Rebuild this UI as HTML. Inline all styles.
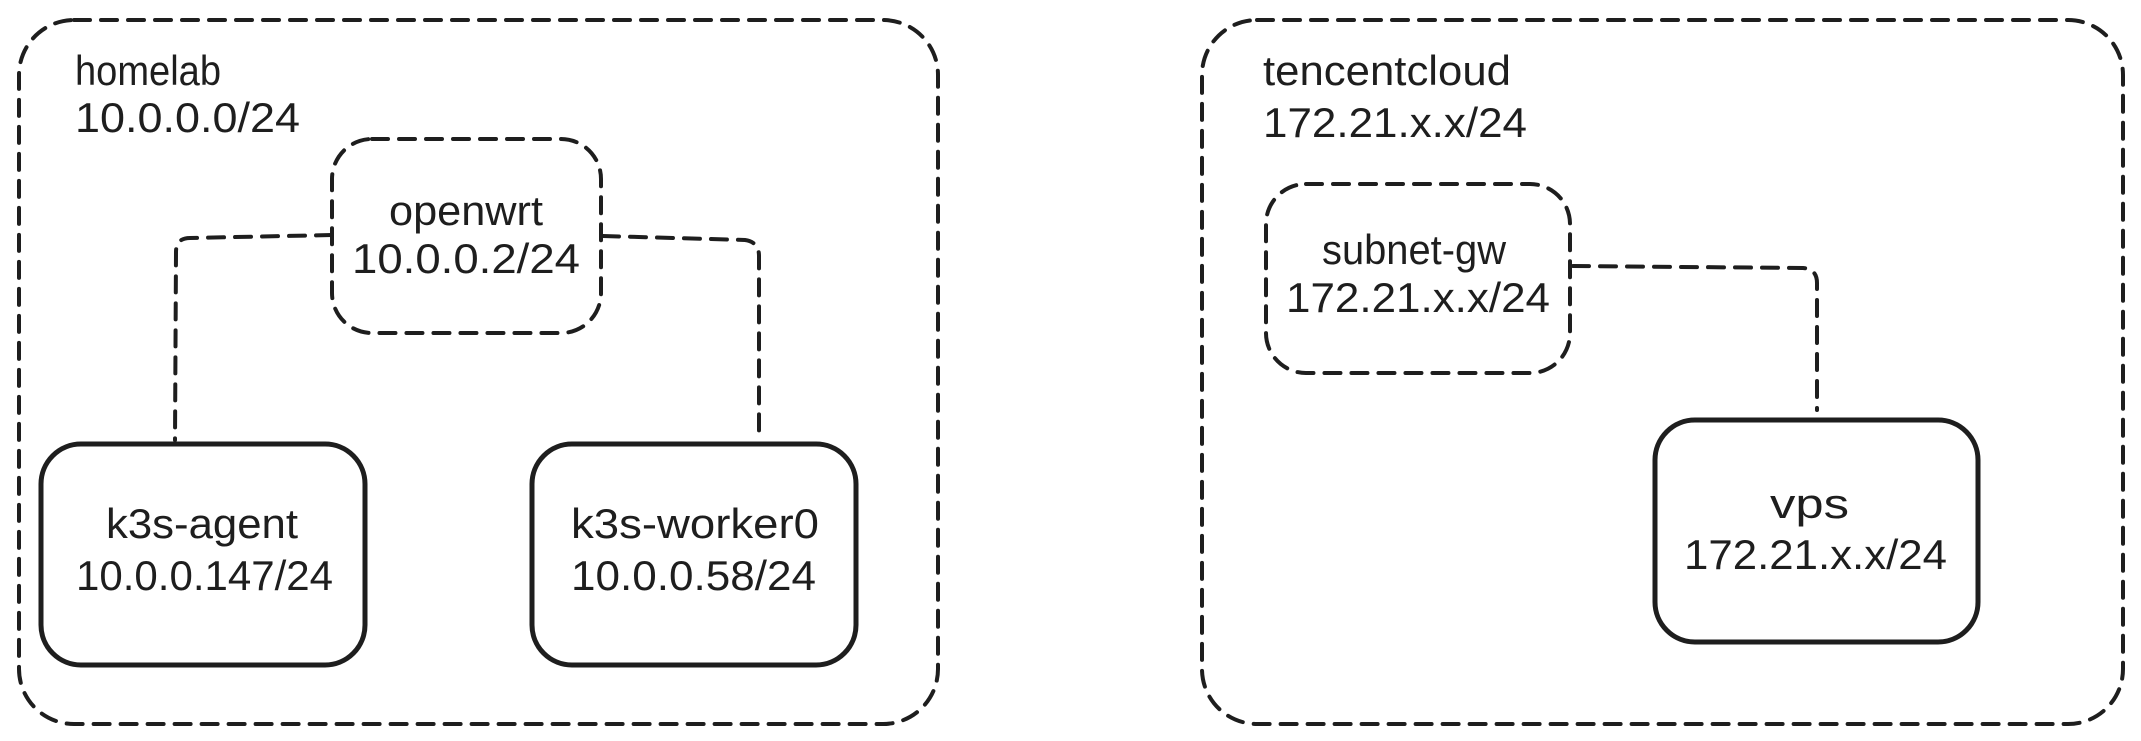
<!DOCTYPE html>
<html><head><meta charset="utf-8"><style>
html,body{margin:0;padding:0;background:#fff;}
svg{display:block;}
text{font-family:"Liberation Sans",sans-serif;font-size:42px;fill:#1e1e1e;}
</style></head><body>
<svg width="2141" height="741" viewBox="0 0 2141 741">
<g fill="none" stroke="#1e1e1e" stroke-width="4" stroke-linecap="round">
  <rect x="19" y="20" width="919" height="704" rx="55" stroke-dasharray="16 11"/>
  <rect x="1202" y="20" width="921" height="704" rx="55" stroke-dasharray="16 11"/>
  <rect x="332" y="139" width="269" height="194" rx="40" stroke-dasharray="16 11"/>
  <rect x="1266" y="184" width="304" height="189" rx="40" stroke-dasharray="16 11"/>
  <path d="M332 235 L190 238 Q176 238 176 252 L175 440" stroke-dasharray="16 11"/>
  <path d="M603 236 L745 240 Q759 242 759 256 L759 440" stroke-dasharray="16 11"/>
  <path d="M1573 266 L1803 268 Q1817 269 1817 283 L1817 410" stroke-dasharray="16 11"/>
  <rect x="41" y="444" width="324" height="221" rx="40" stroke-width="5"/>
  <rect x="532" y="444" width="324" height="221" rx="40" stroke-width="5"/>
  <rect x="1655" y="420" width="323" height="222" rx="40" stroke-width="5"/>
</g>
<text x="75" y="85" textLength="146" lengthAdjust="spacingAndGlyphs">homelab</text>
<text x="75" y="132" textLength="225" lengthAdjust="spacingAndGlyphs">10.0.0.0/24</text>
<text x="389" y="225" textLength="154" lengthAdjust="spacingAndGlyphs">openwrt</text>
<text x="352" y="273" textLength="228" lengthAdjust="spacingAndGlyphs">10.0.0.2/24</text>
<text x="106" y="538" textLength="192" lengthAdjust="spacingAndGlyphs">k3s-agent</text>
<text x="76" y="590" textLength="257" lengthAdjust="spacingAndGlyphs">10.0.0.147/24</text>
<text x="571" y="538" textLength="248" lengthAdjust="spacingAndGlyphs">k3s-worker0</text>
<text x="571" y="590" textLength="245" lengthAdjust="spacingAndGlyphs">10.0.0.58/24</text>
<text x="1263" y="85" textLength="248" lengthAdjust="spacingAndGlyphs">tencentcloud</text>
<text x="1263" y="137" textLength="264" lengthAdjust="spacingAndGlyphs">172.21.x.x/24</text>
<text x="1322" y="264" textLength="184" lengthAdjust="spacingAndGlyphs">subnet-gw</text>
<text x="1286" y="312" textLength="264" lengthAdjust="spacingAndGlyphs">172.21.x.x/24</text>
<text x="1770" y="518" textLength="79" lengthAdjust="spacingAndGlyphs">vps</text>
<text x="1684" y="569" textLength="263" lengthAdjust="spacingAndGlyphs">172.21.x.x/24</text>
</svg>
</body></html>
